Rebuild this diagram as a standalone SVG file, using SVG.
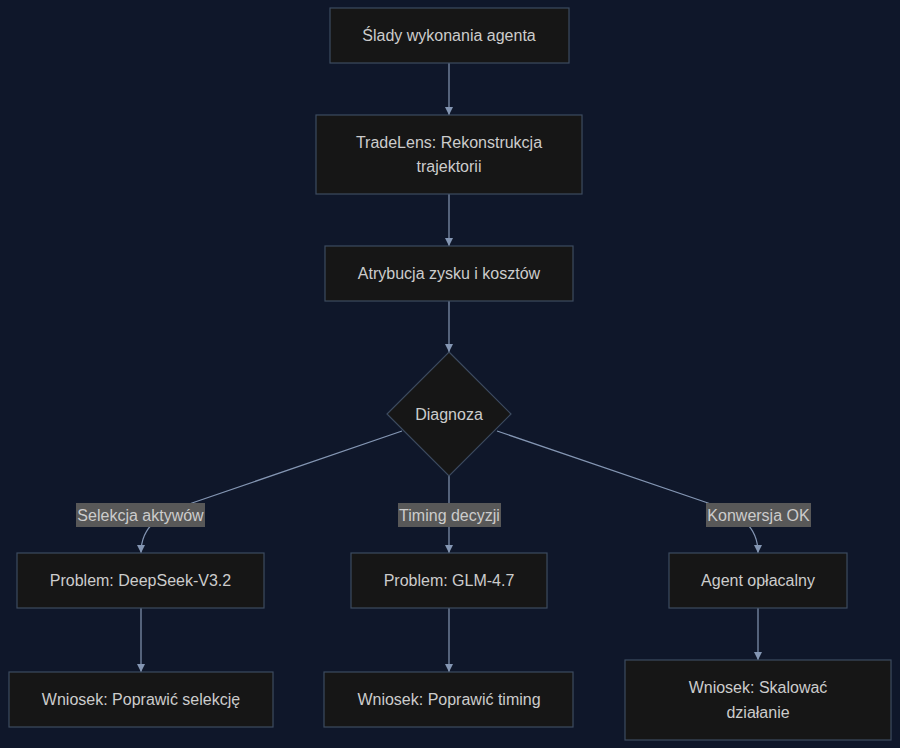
<svg xmlns="http://www.w3.org/2000/svg" width="900" height="748" viewBox="0 0 900 748">
<defs>
<style>
.node rect,.node polygon{fill:#161616;stroke:#3d4b60;stroke-width:1.2}
text{font-family:"Liberation Sans",Arial,sans-serif;font-size:16px;fill:#cccccc;text-anchor:middle;dominant-baseline:central}
.edge{fill:none;stroke:#8496b3;stroke-width:1.2}
.lbl rect{fill:#585858}
</style>
<marker id="arr" viewBox="0 0 10 10" refX="10" refY="5" markerWidth="8" markerHeight="8" markerUnits="userSpaceOnUse" orient="auto">
<path d="M0,0 L10,5 L0,10 z" fill="#8496b3"/>
</marker>
</defs>
<rect width="900" height="748" fill="#0f172a"/>
<g id="edges">
<path class="edge" d="M449,63 L449,115" marker-end="url(#arr)"/>
<path class="edge" d="M449,194 L449,246" marker-end="url(#arr)"/>
<path class="edge" d="M449,301 L449,352" marker-end="url(#arr)"/>
<path class="edge" d="M402,431 L192,503 C160,515 141,525 141,553" marker-end="url(#arr)"/>
<path class="edge" d="M449,476 L449,553" marker-end="url(#arr)"/>
<path class="edge" d="M497,431 L708,503 C740,515 758,525 758,553" marker-end="url(#arr)"/>
<path class="edge" d="M141,608 L141,672" marker-end="url(#arr)"/>
<path class="edge" d="M449,608 L449,672" marker-end="url(#arr)"/>
<path class="edge" d="M758,608 L758,660" marker-end="url(#arr)"/>
</g>
<g id="labels">
<g class="lbl"><rect x="76" y="503" width="129" height="24"/><text x="140.5" y="515">Selekcja aktywów</text></g>
<g class="lbl"><rect x="398" y="503" width="103" height="24"/><text x="449.5" y="515">Timing decyzji</text></g>
<g class="lbl"><rect x="706" y="503" width="105" height="24"/><text x="758.5" y="515">Konwersja OK</text></g>
</g>
<g id="n1" class="node"><rect x="330" y="8" width="239" height="55"/><text x="449" y="35">Ślady wykonania agenta</text></g>
<g id="n2" class="node"><rect x="316" y="115" width="266" height="79"/><text x="449" y="142">TradeLens: Rekonstrukcja</text><text x="449" y="166">trajektorii</text></g>
<g id="n3" class="node"><rect x="325" y="246" width="248" height="55"/><text x="449" y="273">Atrybucja zysku i kosztów</text></g>
<g id="n4" class="node"><polygon points="449,352 511,414 449,476 387,414"/><text x="449" y="414">Diagnoza</text></g>
<g id="n5" class="node"><rect x="17" y="553" width="247" height="55"/><text x="140.5" y="580">Problem: DeepSeek-V3.2</text></g>
<g id="n6" class="node"><rect x="351" y="553" width="196" height="55"/><text x="449" y="580">Problem: GLM-4.7</text></g>
<g id="n7" class="node"><rect x="669" y="553" width="178" height="55"/><text x="758" y="580">Agent opłacalny</text></g>
<g id="n8" class="node"><rect x="9" y="672" width="264" height="55"/><text x="141" y="699">Wniosek: Poprawić selekcję</text></g>
<g id="n9" class="node"><rect x="324" y="672" width="249" height="55"/><text x="449" y="699">Wniosek: Poprawić timing</text></g>
<g id="n10" class="node"><rect x="625" y="660" width="266" height="80"/><text x="758" y="687">Wniosek: Skalować</text><text x="758" y="712">działanie</text></g>
</svg>
